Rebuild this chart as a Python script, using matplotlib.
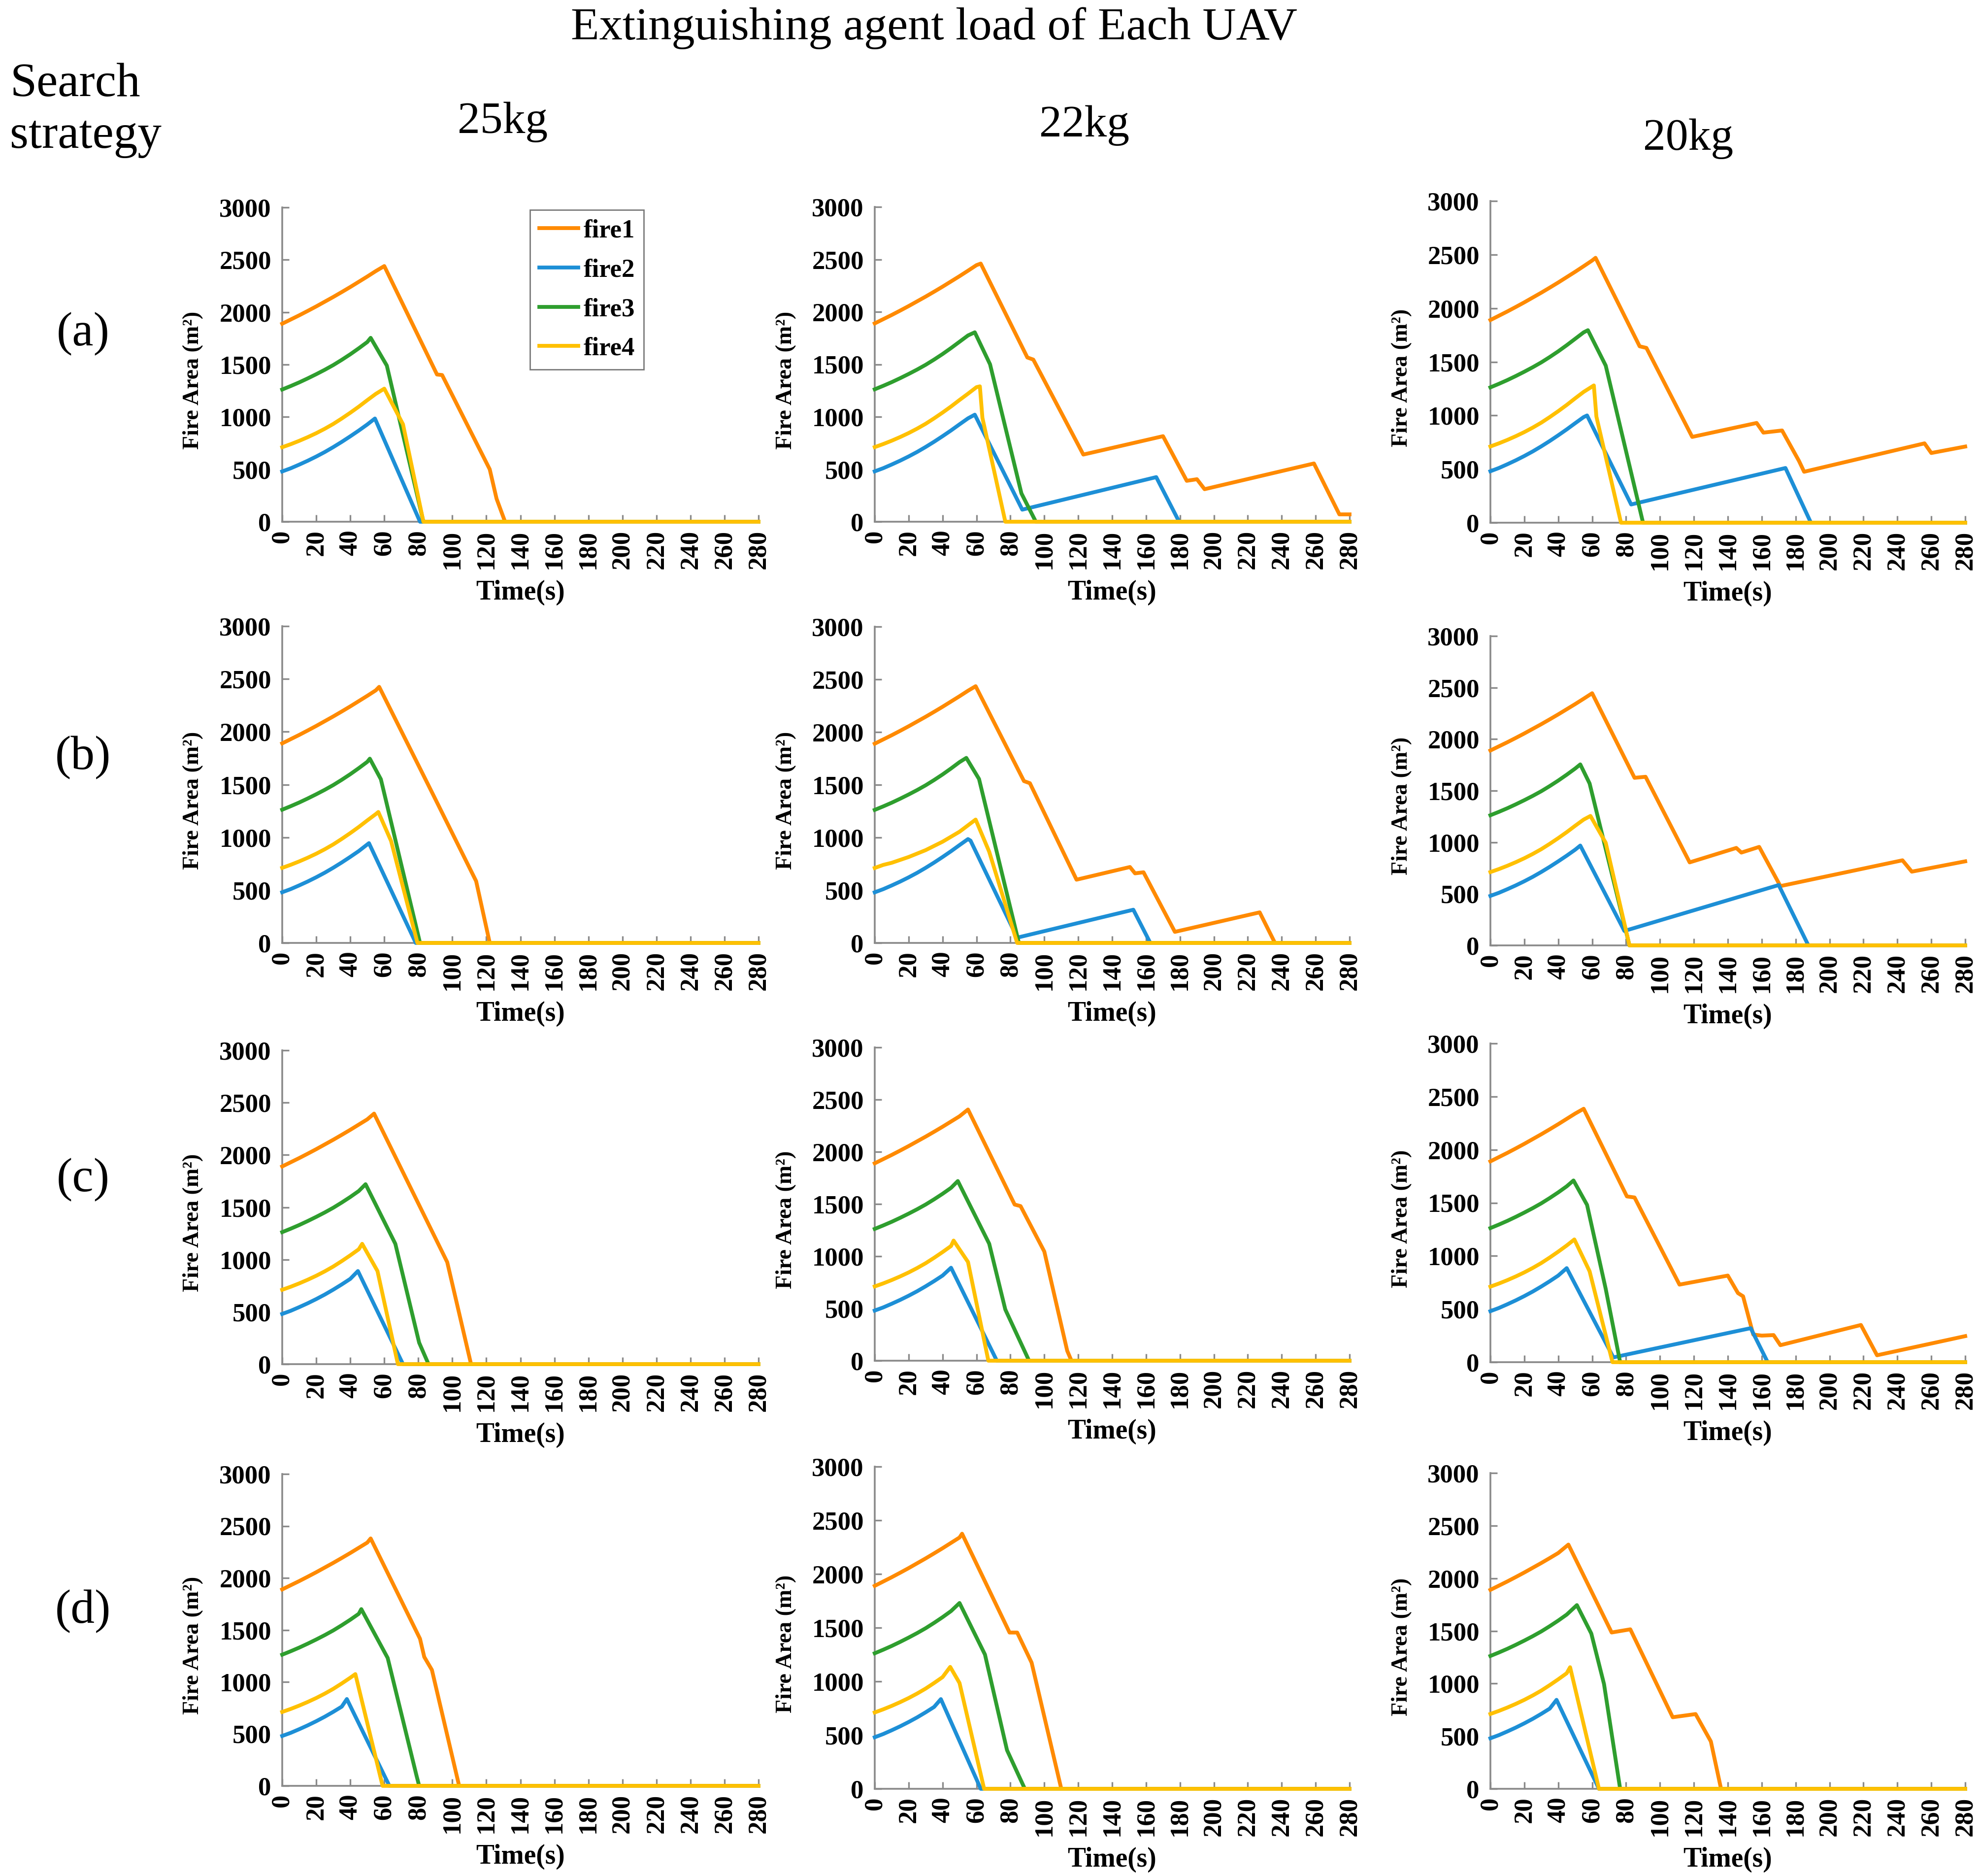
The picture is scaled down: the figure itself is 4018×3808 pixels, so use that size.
"""Fire area vs time for each search strategy (rows) and UAV agent load (columns)."""
import matplotlib
matplotlib.use("Agg")
import matplotlib.pyplot as plt

plt.rcParams["font.family"] = ["Liberation Serif", "DejaVu Serif"]

FIRES = ["fire1", "fire2", "fire3", "fire4"]
COLORS = ["#FF8A00", "#1D8FD6", "#2E9E2E", "#FFC000"]
LOADS = ["25kg", "22kg", "20kg"]
STRATEGIES = ["(a)", "(b)", "(c)", "(d)"]

# free growth of each fire before the UAVs reach it
GROW_T = [0, 5, 10, 15, 20, 25, 30, 35, 40, 45, 50, 55, 60]
GROW_FIRE1 = [1890, 1930, 1970, 2012, 2055, 2100, 2145, 2192, 2240, 2290, 2340, 2392, 2445]
GROW_FIRE2 = [480, 510, 545, 582, 622, 665, 712, 762, 815, 870, 928, 985, 1040]
GROW_FIRE3 = [1262, 1295, 1330, 1368, 1408, 1450, 1495, 1545, 1598, 1655, 1715, 1775, 1838]
GROW_FIRE4 = [711, 740, 772, 807, 845, 887, 933, 985, 1040, 1098, 1160, 1220, 1282]

# (time, area) from the peak onwards, per panel: [fire1, fire2, fire3, fire4]
a_25kg = [
    [(60, 2440), (91, 1405), (94, 1400), (122, 500), (126, 220), (131, 0), (280, 0)],
    [(54.5, 985), (81, 0), (280, 0)],
    [(52, 1755), (61.5, 1490), (83, 0), (280, 0)],
    [(60, 1270), (71, 930), (83, 0), (280, 0)],
]
a_22kg = [
    [(62.5, 2460), (90, 1565), (93.5, 1545), (123, 640), (170, 815), (184, 390),
     (190, 405), (194.5, 310), (259, 555), (274, 70), (280, 70)],
    [(59, 1020), (87, 115), (166, 425), (179.5, 0), (280, 0)],
    [(59, 1805), (68, 1500), (86.5, 270), (95, 0), (280, 0)],
    [(62, 1290), (63.5, 990), (77, 0), (280, 0)],
]
a_20kg = [
    [(62, 2470), (88, 1645), (92, 1630), (119, 800), (157, 930), (161, 840),
     (172, 860), (182, 575), (185, 475), (256, 740), (260, 650), (280, 710)],
    [(57, 1000), (83, 170), (174, 510), (189, 0), (280, 0)],
    [(57.5, 1795), (68, 1465), (90, 0), (280, 0)],
    [(61, 1280), (62.5, 990), (77, 0), (280, 0)],
]
b_25kg = [
    [(57, 2425), (89, 1395), (114, 585), (122, 0), (280, 0)],
    [(51, 945), (78.5, 0), (280, 0)],
    [(51.5, 1745), (58, 1550), (81, 0), (280, 0)],
    [(56.5, 1240), (64, 965), (79.5, 0), (280, 0)],
]
b_22kg = [
    [(59.5, 2435), (88, 1535), (91.5, 1515), (119, 600), (150.5, 720), (153.5, 660),
     (158.5, 670), (177, 105), (227, 290), (236, 0), (280, 0)],
    [(56.5, 970), (84, 50), (152.5, 315), (162.5, 0), (280, 0)],
    [(54, 1755), (61.5, 1555), (85, 0), (280, 0)],
    [(10, 760), (20, 815), (30, 880), (40, 960), (50, 1055), (59.5, 1170),
     (67.5, 865), (84, 0), (280, 0)],
]
b_20kg = [
    [(60, 2445), (85, 1625), (91.5, 1635), (117.5, 805), (145, 945), (148, 900),
     (158.5, 955), (171, 575), (243, 825), (248.5, 715), (280, 815)],
    [(53, 968), (79, 140), (170, 585), (187.5, 0), (280, 0)],
    [(53, 1755), (58.5, 1570), (82, 0), (280, 0)],
    [(59, 1255), (68, 995), (82, 0), (280, 0)],
]
c_25kg = [
    [(54, 2395), (97, 975), (111, 0), (280, 0)],
    [(44.5, 890), (71, 0), (280, 0)],
    [(49, 1720), (66.5, 1150), (80.5, 205), (86, 0), (280, 0)],
    [(47, 1150), (56, 890), (68, 0), (280, 0)],
]
c_22kg = [
    [(55, 2405), (82.5, 1495), (86, 1480), (100, 1045), (113.5, 95), (116, 0), (280, 0)],
    [(45, 890), (72, 0), (280, 0)],
    [(49, 1720), (67.5, 1120), (77, 490), (91, 0), (280, 0)],
    [(46.5, 1150), (55, 945), (67, 0), (280, 0)],
]
c_20kg = [
    [(55, 2385), (80.5, 1560), (85, 1550), (111.5, 730), (140, 815), (146, 650),
     (149, 620), (155, 260), (160, 250), (167, 255), (171, 160), (218.5, 350),
     (228, 65), (280, 245)],
    [(45, 885), (72.5, 45), (153.5, 320), (163.5, 0), (280, 0)],
    [(49, 1710), (57, 1480), (68, 690), (76.5, 0), (280, 0)],
    [(49.5, 1155), (58.5, 855), (72, 0), (280, 0)],
]
d_25kg = [
    [(52, 2380), (81, 1415), (83.5, 1240), (88, 1115), (104, 0), (280, 0)],
    [(38, 835), (63, 0), (280, 0)],
    [(46.5, 1700), (62, 1230), (79, 95), (80.5, 0), (280, 0)],
    [(43, 1075), (59, 0), (280, 0)],
]
d_22kg = [
    [(51.5, 2375), (79.5, 1455), (84, 1455), (92.5, 1175), (110, 0), (280, 0)],
    [(39, 835), (62.5, 0), (280, 0)],
    [(50, 1730), (65, 1250), (78, 360), (88.5, 0), (280, 0)],
    [(44.5, 1135), (50, 985), (64.5, 0), (280, 0)],
]
d_20kg = [
    [(46, 2320), (71.5, 1485), (82.5, 1515), (107.5, 680), (121, 710), (130, 450),
     (136, 0), (280, 0)],
    [(39, 845), (64, 0), (280, 0)],
    [(51, 1745), (59.5, 1475), (67, 995), (76.5, 0), (280, 0)],
    [(47, 1155), (64, 0), (280, 0)],
]

PANELS = [[a_25kg, a_22kg, a_20kg],
          [b_25kg, b_22kg, b_20kg],
          [c_25kg, c_22kg, c_20kg],
          [d_25kg, d_22kg, d_20kg]]
GROWTH = [GROW_FIRE1, GROW_FIRE2, GROW_FIRE3, GROW_FIRE4]

# layout in output pixels (4018 x 3808)
W, H = 4018, 3808
COL_X = [(573, 1540), (1776, 2740), (3026, 3990)]
ROW_Y = [[(421, 1059), (420, 1059), (408, 1061)],
         [(1271, 1914), (1272, 1914), (1291, 1919)],
         [(2132, 2769), (2126, 2762), (2118, 2765)],
         [(2992, 3625), (2977, 3631), (2990, 3631)]]
AXIS_GREY = "#8a8a8a"

fig = plt.figure(figsize=(W / 200, H / 200), dpi=200)

for r in range(4):
    for c in range(3):
        x0, x1 = COL_X[c]
        y0, y1 = ROW_Y[r][c]
        ax = fig.add_axes([x0 / W, 1 - y1 / H, (x1 - x0) / W, (y1 - y0) / H])
        for i in range(4):
            tail = PANELS[r][c][i]
            start = tail[0][0]
            pts = [(t, g) for t, g in zip(GROW_T, GROWTH[i]) if t < start - 1] + tail
            ax.plot([p[0] for p in pts], [p[1] for p in pts], color=COLORS[i],
                    lw=2.8, label=FIRES[i], clip_on=False, zorder=3,
                    solid_joinstyle="round")
        ax.set_xlim(0, 280)
        ax.set_ylim(0, 3000)
        ax.set_xticks(range(0, 281, 20), [str(v) for v in range(0, 281, 20)],
                      rotation=90, fontweight="bold")
        ax.set_yticks(range(0, 3001, 500), [str(v) for v in range(0, 3001, 500)],
                      fontweight="bold")
        ax.tick_params(direction="in", length=5, width=1.2, color=AXIS_GREY,
                       labelsize=19)
        ax.tick_params(axis="x", pad=6)
        ax.tick_params(axis="y", pad=8)
        for s in ("top", "right"):
            ax.spines[s].set_visible(False)
        for s in ("left", "bottom"):
            ax.spines[s].set_color(AXIS_GREY)
            ax.spines[s].set_linewidth(1.3)
        ax.set_xlabel("Time(s)", fontsize=20, fontweight="bold", labelpad=8)
        ax.set_ylabel("Fire Area (m²)", fontsize=16.5, fontweight="bold")
        ax.yaxis.set_label_coords(-0.165, 0.45)
        if r == 0 and c == 0:
            ax.legend(loc="upper left", bbox_to_anchor=(0.515, 1.0),
                      prop={"weight": "bold", "size": 19}, frameon=True,
                      fancybox=False, edgecolor="#7a7a7a", framealpha=1,
                      handlelength=1.5, handletextpad=0.2, labelspacing=0.6,
                      borderpad=0.35, borderaxespad=0.1)

fig.text(0.472, 0.985, "Extinguishing agent load of Each UAV", fontsize=34,
         ha="center", va="center")
fig.text(0.005, 0.9489, "Search", fontsize=35, ha="left", va="baseline")
fig.text(0.005, 0.9213, "strategy", fontsize=35, ha="left", va="baseline")
for x, y, s in zip([0.254, 0.548, 0.853], [0.935, 0.933, 0.926], LOADS):
    fig.text(x, y, s, fontsize=33, ha="center", va="center")
for y, s in zip([0.822, 0.596, 0.371, 0.141], STRATEGIES):
    fig.text(0.042, y, s, fontsize=35, ha="center", va="center")

plt.savefig("out.png", dpi=200)
